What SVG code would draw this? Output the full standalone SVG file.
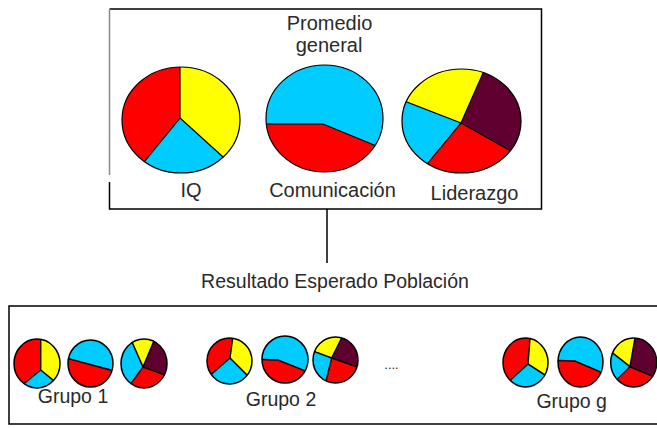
<svg xmlns="http://www.w3.org/2000/svg" width="657" height="428" viewBox="0 0 657 428">
<style>
.bg{fill:#fff}
.r{fill:#ff0000}
.y{fill:#ffff00}
.c{fill:#00ccff}
.m{fill:#600030}
.d{fill:none;stroke:#000;stroke-width:1.2}
.o{fill:none;stroke:#000;stroke-width:1.2}
.s .d,.s .o{stroke-width:1.5}
.frame{fill:none;stroke:#000;stroke-width:1.5}
.lbl{font-family:"Liberation Sans",Arial,sans-serif;fill:#2a2a2a;text-anchor:middle}
.big{font-size:20px}
.sm{font-size:19.5px}
</style>
<defs>
<clipPath id="k1"><ellipse cx="181" cy="120" rx="59" ry="53"/></clipPath>
<clipPath id="k2"><ellipse cx="324.5" cy="118.5" rx="58.5" ry="53.5"/></clipPath>
<clipPath id="k3"><ellipse cx="461.5" cy="121" rx="59.5" ry="52"/></clipPath>
<clipPath id="a1"><ellipse cx="37" cy="363.5" rx="23" ry="24.5"/></clipPath>
<clipPath id="a2"><ellipse cx="90.5" cy="363.5" rx="22.5" ry="23.5"/></clipPath>
<clipPath id="a3"><ellipse cx="144" cy="363.5" rx="23" ry="24.5"/></clipPath>
<clipPath id="b1"><ellipse cx="229.5" cy="361" rx="22.5" ry="23"/></clipPath>
<clipPath id="b2"><ellipse cx="285" cy="359.5" rx="23" ry="23.5"/></clipPath>
<clipPath id="b3"><ellipse cx="335.5" cy="360" rx="22.5" ry="23"/></clipPath>
<clipPath id="g1"><ellipse cx="525.5" cy="362.5" rx="22.5" ry="24.5"/></clipPath>
<clipPath id="g2"><ellipse cx="580.5" cy="362" rx="22.5" ry="25"/></clipPath>
<clipPath id="g3"><ellipse cx="633.7" cy="362.5" rx="23" ry="24.5"/></clipPath>
</defs>
<rect class="bg" x="0" y="0" width="657" height="428"/>

<g id="promedio-box">
<path class="frame" d="M109.5,9 H541.5 V209 H109.5"/>
<line x1="109.5" y1="9" x2="109.5" y2="175" stroke="#888" stroke-width="1.5"/>
<line x1="109.5" y1="182" x2="109.5" y2="209.7" stroke="#000" stroke-width="1.5"/>
<text class="lbl big" x="329.5" y="30">Promedio</text>
<text class="lbl big" x="329" y="52">general</text>
</g>

<g id="pie-iq">
<g clip-path="url(#k1)">
<rect class="r" x="110" y="60" width="140" height="120"/>
<polygon class="y" points="180,118 180,0 320,0 320,235 309,235"/>
<polygon class="c" points="180,118 309,235 72,250"/>
<polyline class="d" points="180,0 180,118 309,235"/>
<line class="d" x1="180" y1="118" x2="72" y2="250"/>
</g>
<ellipse class="o" cx="181" cy="120" rx="59" ry="53"/>
<text class="lbl big" x="191" y="197">IQ</text>
</g>

<g id="pie-comunicacion">
<g clip-path="url(#k2)">
<rect class="c" x="260" y="60" width="130" height="120"/>
<polygon class="r" points="250,124 323,124 425,166 425,200 250,200"/>
<polyline class="d" points="250,124 323,124 425,166"/>
</g>
<ellipse class="o" cx="324.5" cy="118.5" rx="58.5" ry="53.5"/>
<text class="lbl big" x="332.5" y="197">Comunicación</text>
</g>

<g id="pie-liderazgo">
<g clip-path="url(#k3)">
<rect class="r" x="395" y="60" width="135" height="120"/>
<polygon class="y" points="461,123 299,60 299,-40 530,-33"/>
<polygon class="m" points="461,123 530,-33 640,-33 640,204 605,204"/>
<polygon class="c" points="461,123 362,243 290,243 290,60 299,60"/>
<line class="d" x1="461" y1="123" x2="299" y2="60"/>
<line class="d" x1="461" y1="123" x2="530" y2="-33"/>
<line class="d" x1="461" y1="123" x2="605" y2="204"/>
<line class="d" x1="461" y1="123" x2="362" y2="243"/>
</g>
<ellipse class="o" cx="461.5" cy="121" rx="59.5" ry="52"/>
<text class="lbl big" x="474.5" y="200">Liderazgo</text>
</g>

<g id="connectors">
<line x1="327" y1="209" x2="327" y2="263" stroke="#000" stroke-width="1.5"/>
</g>

<g id="resultado-label">
<text class="lbl sm" x="335" y="288">Resultado Esperado Población</text>
</g>

<g id="poblacion-box">
<path class="frame" d="M660,306 H9 V424 H660"/>
<text class="lbl" x="391.5" y="369" font-size="13">....</text>
</g>

<g id="grupo-1" class="s">
<g clip-path="url(#a1)">
<rect class="r" x="10" y="335" width="55" height="57"/>
<polygon class="y" points="40.7,370 40.7,300 90,300 90,400 77.6,400"/>
<polygon class="c" points="40.7,370 77.6,400 -3.4,406"/>
<polyline class="d" points="40.7,300 40.7,370 77.6,400"/>
<line class="d" x1="40.7" y1="370" x2="-3.4" y2="406"/>
</g>
<ellipse class="o" cx="37" cy="363.5" rx="23" ry="24.5"/>
<g clip-path="url(#a2)">
<rect class="c" x="65" y="335" width="55" height="57"/>
<polygon class="r" points="50,353.6 130,375.2 130,400 50,400"/>
<line class="d" x1="50" y1="353.6" x2="130" y2="375.2"/>
</g>
<ellipse class="o" cx="90.5" cy="363.5" rx="22.5" ry="23.5"/>
<g clip-path="url(#a3)">
<rect class="r" x="118" y="335" width="55" height="57"/>
<polygon class="y" points="143,367 110,292 176,289"/>
<polygon class="m" points="143,367 176,289 215,289 215,391 209,391"/>
<polygon class="c" points="143,367 119,400 100,400 100,292 110,292"/>
<line class="d" x1="143" y1="367" x2="110" y2="292"/>
<line class="d" x1="143" y1="367" x2="176" y2="289"/>
<line class="d" x1="143" y1="367" x2="209" y2="391"/>
<line class="d" x1="143" y1="367" x2="119" y2="400"/>
</g>
<ellipse class="o" cx="144" cy="363.5" rx="23" ry="24.5"/>
<text class="lbl sm" x="73" y="403">Grupo 1</text>
</g>

<g id="grupo-2" class="s">
<g clip-path="url(#b1)">
<rect class="r" x="205" y="335" width="50" height="52"/>
<polygon class="y" points="230,358 238,298 280,298 280,403 275,403"/>
<polygon class="c" points="230,358 275,403 178,403"/>
<polyline class="d" points="238,298 230,358 275,403"/>
<line class="d" x1="230" y1="358" x2="178" y2="403"/>
</g>
<ellipse class="o" cx="229.5" cy="361" rx="22.5" ry="23"/>
<g clip-path="url(#b2)">
<rect class="c" x="260" y="333" width="50" height="53"/>
<polygon class="r" points="250,359 278,360 320,376.8 320,400 250,400"/>
<polyline class="d" points="250,359 278,360 320,376.8"/>
</g>
<ellipse class="o" cx="285" cy="359.5" rx="23" ry="23.5"/>
<g clip-path="url(#b3)">
<rect class="r" x="310" y="335" width="50" height="52"/>
<polygon class="y" points="331.7,358 281.6,339.1 281.6,298 361.7,298"/>
<polygon class="m" points="331.7,358 361.7,298 410,298 406.7,384"/>
<polygon class="c" points="331.7,358 316.7,418 281.6,418 281.6,339.1"/>
<line class="d" x1="331.7" y1="358" x2="281.6" y2="339.1"/>
<line class="d" x1="331.7" y1="358" x2="361.7" y2="298"/>
<line class="d" x1="331.7" y1="358" x2="406.7" y2="384"/>
<line class="d" x1="331.7" y1="358" x2="316.7" y2="418"/>
</g>
<ellipse class="o" cx="335.5" cy="360" rx="22.5" ry="23"/>
<text class="lbl sm" x="281" y="406">Grupo 2</text>
</g>

<g id="grupo-g" class="s">
<g clip-path="url(#g1)">
<rect class="r" x="500" y="335" width="50" height="55"/>
<polygon class="y" points="528,364 534,286 585,286 585,397 579,397"/>
<polygon class="c" points="528,364 579,397 482,406"/>
<polyline class="d" points="534,286 528,364 579,397"/>
<line class="d" x1="528" y1="364" x2="482" y2="406"/>
</g>
<ellipse class="o" cx="525.5" cy="362.5" rx="22.5" ry="24.5"/>
<g clip-path="url(#g2)">
<rect class="c" x="555" y="334" width="52" height="56"/>
<polygon class="r" points="545,360 575,361 620,380.3 620,400 545,400"/>
<polyline class="d" points="545,360 575,361 620,380.3"/>
</g>
<ellipse class="o" cx="580.5" cy="362" rx="22.5" ry="25"/>
<g clip-path="url(#g3)">
<rect class="r" x="608" y="335" width="52" height="55"/>
<polygon class="y" points="630,366.7 578,325.6 578,281.5 645,281.5"/>
<polygon class="m" points="630,366.7 645,281.5 700,281.5 700,396.7"/>
<polygon class="c" points="630,366.7 595,400.6 578,400.6 578,325.6"/>
<line class="d" x1="630" y1="366.7" x2="578" y2="325.6"/>
<line class="d" x1="630" y1="366.7" x2="645" y2="281.5"/>
<line class="d" x1="630" y1="366.7" x2="700" y2="396.7"/>
<line class="d" x1="630" y1="366.7" x2="595" y2="400.6"/>
</g>
<ellipse class="o" cx="633.7" cy="362.5" rx="23" ry="24.5"/>
<text class="lbl sm" x="571.7" y="408">Grupo g</text>
</g>
</svg>
